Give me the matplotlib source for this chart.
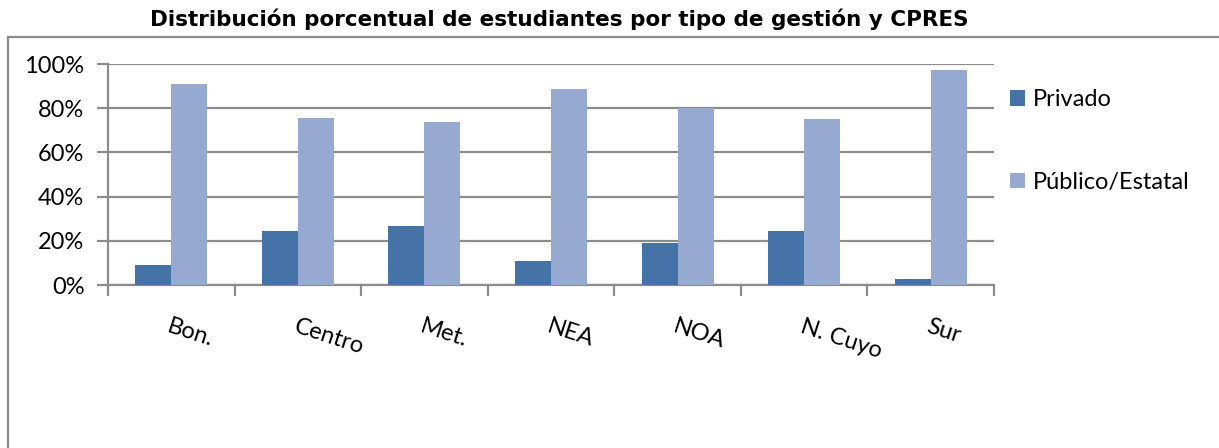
import matplotlib
matplotlib.use("Agg")
import matplotlib.pyplot as plt
from matplotlib.lines import Line2D
from matplotlib.ticker import FuncFormatter, FixedLocator
import numpy as np

categories = ["Bon.", "Centro", "Met.", "NEA", "NOA", "N. Cuyo", "Sur"]
privado = [9.2, 24.6, 26.5, 11.0, 19.2, 24.6, 2.9]
publico = [90.9, 75.5, 73.7, 88.6, 80.3, 75.0, 97.3]
series_labels = ["Privado", "Público/Estatal"]
yticks = [0, 20, 40, 60, 80, 100]
title = "Distribución porcentual de estudiantes por tipo de gestión y CPRES"

W, H = 1219, 448
fig = plt.figure(figsize=(W / 100, H / 100), dpi=100)
fig.patch.set_facecolor("white")

ax = fig.add_axes([108 / W, (H - 285) / H, 886 / W, 221 / H])

c_priv = "#4572A7"
c_pub = "#96AAD1"
grid_c = "#8C8C8C"
fs = 17
bw = 0.284
x = np.arange(len(categories))
ax.bar(x - bw / 2, privado, width=bw, color=c_priv, label=series_labels[0], zorder=3)
ax.bar(x + bw / 2, publico, width=bw, color=c_pub, label=series_labels[1], zorder=3)

ax.set_xlim(-0.5, len(categories) - 0.5)
ax.set_ylim(0, 100)

ax.set_yticks(yticks)
ax.yaxis.set_major_formatter(FuncFormatter(lambda v, p: f"{int(v)}%"))
ax.grid(axis="y", color=grid_c, linewidth=1.6, zorder=0)
ax.tick_params(axis="y", length=8, width=1.6, color=grid_c, pad=9, direction="out")
for lab in ax.get_yticklabels():
    lab.set_fontfamily("Lato")
    lab.set_fontsize(fs)

ax.set_xticks(x)
ax.set_xticklabels(categories)
ax.tick_params(axis="x", which="major", length=0, pad=22)
for lab in ax.get_xticklabels():
    lab.set_fontfamily("Lato")
    lab.set_fontsize(fs)
    lab.set_rotation(-18)
    lab.set_ha("left")
    lab.set_va("top")
    lab.set_rotation_mode("anchor")
ax.xaxis.set_minor_locator(FixedLocator(np.arange(-0.5, len(categories), 1.0)))
ax.tick_params(axis="x", which="minor", length=8, width=1.6, color=grid_c, direction="out")

for s in ["top", "right"]:
    ax.spines[s].set_visible(False)
for s in ["left", "bottom"]:
    ax.spines[s].set_color(grid_c)
    ax.spines[s].set_linewidth(1.6)

leg = ax.legend(loc="center left", bbox_to_anchor=(1010 / W, 1 - 141 / H),
                bbox_transform=fig.transFigure, frameon=False,
                prop={"family": "Lato", "size": fs},
                handlelength=0.65, handleheight=0.65, handletextpad=0.3,
                labelspacing=2.6, borderaxespad=0, borderpad=0)

fig.text(559 / W, 1 - 19 / H, title, ha="center", va="center",
         fontsize=15.5, fontweight="bold", family="DejaVu Sans")

# chart area border (left and top edges visible)
fig.add_artist(Line2D([8 / W, 8 / W], [0, 1 - 37 / H], transform=fig.transFigure,
                      color=grid_c, linewidth=1.6))
fig.add_artist(Line2D([8 / W, 1], [1 - 37 / H, 1 - 37 / H], transform=fig.transFigure,
                      color=grid_c, linewidth=1.6))

fig.savefig("out.png", dpi=100, facecolor="white")
